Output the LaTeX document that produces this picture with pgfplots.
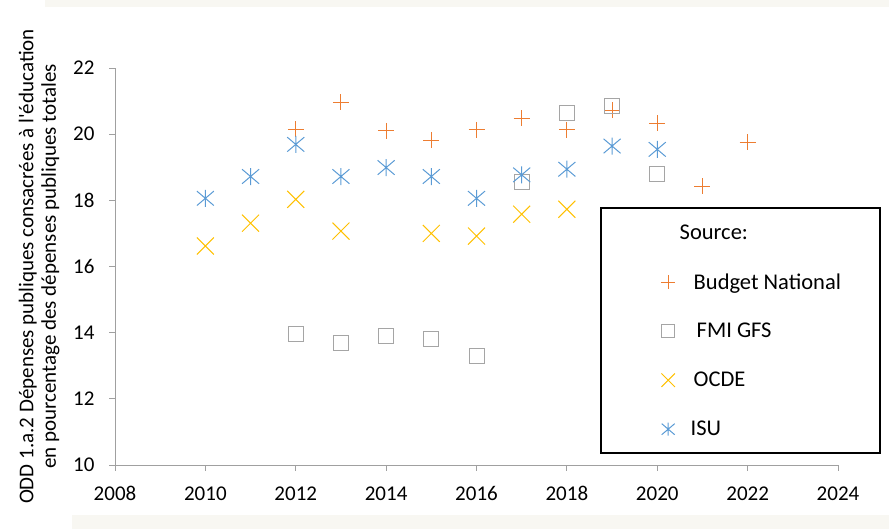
\documentclass[border=0pt]{standalone}
\usepackage{pgfplots}
\pgfplotsset{compat=1.18}
\usepackage{fontspec}
\setmainfont{Carlito}[Ligatures=TeXOff]
\definecolor{cBN}{HTML}{ED7D31}
\definecolor{cFMI}{HTML}{A5A5A5}
\definecolor{cOCDE}{HTML}{FFC000}
\definecolor{cISU}{HTML}{5B9BD5}
\definecolor{axgray}{HTML}{A0A0A0}
\definecolor{bgband}{HTML}{F8F7F2}
\pgfdeclareplotmark{xstar}{%
  \pgfpathmoveto{\pgfqpoint{0pt}{\pgfplotmarksize}}%
  \pgfpathlineto{\pgfqpoint{0pt}{-\pgfplotmarksize}}%
  \pgfpathmoveto{\pgfqpoint{-\pgfplotmarksize}{-0.85\pgfplotmarksize}}%
  \pgfpathlineto{\pgfqpoint{\pgfplotmarksize}{0.85\pgfplotmarksize}}%
  \pgfpathmoveto{\pgfqpoint{-\pgfplotmarksize}{0.85\pgfplotmarksize}}%
  \pgfpathlineto{\pgfqpoint{\pgfplotmarksize}{-0.85\pgfplotmarksize}}%
  \pgfusepathqstroke}
\begin{document}
\begin{tikzpicture}[x=1bp,y=1bp]
\useasboundingbox (0,0) rectangle (889,529);
\fill[bgband] (45,522) rectangle (889,529);
\fill[bgband] (72,0) rectangle (889,14);
\begin{axis}[
  at={(115bp,64bp)}, anchor=south west,
  scale only axis, width=723bp, height=397bp,
  xmin=2008, xmax=2024, ymin=10, ymax=22,
  xtick={2008,2010,...,2024}, ytick={10,12,...,22},
  axis lines=left, axis line style={axgray,-, line width=0.8bp},
  tick style={axgray, line width=0.8bp}, tick align=outside,
  major tick length=6bp,
  /pgf/number format/1000 sep={},
  /pgf/number format/assume math mode=true,
  x tick label style={font=\fontsize{21bp}{24bp}\selectfont, yshift=-12bp},
  y tick label style={font=\fontsize{21bp}{24bp}\selectfont, xshift=-11bp},
  ylabel={ODD 1.a.2 Dépenses publiques consacrées à l'éducation\\en pourcentage des dépenses publiques totales},
  y label style={at={(axis description cs:-0.105,0.5)}, anchor=center, rotate=0, align=center, font=\fontsize{21bp}{22.5bp}\selectfont},
  clip=false,
  legend cell align=left,
  legend style={draw=none, fill=none, inner sep=0pt,
    at={(axis description cs:0.7531,0.6461)}, anchor=north west,
    font=\fontsize{22.5bp}{26bp}\selectfont,
    nodes={minimum height=49bp}, row sep=0pt},
]
\addlegendimage{empty legend}
\addlegendentry{\hspace*{2.5bp}Source:}
\addplot[forget plot, only marks, mark=+, mark size=8bp, color=cBN, line width=1bp] coordinates {
 (2012,20.15) (2013,20.96) (2014,20.1) (2015,19.82) (2016,20.13) (2017,20.48)
 (2018,20.13) (2019,20.73) (2020,20.33) (2021,18.43) (2022,19.75)};
\addlegendimage{only marks, mark=+, mark size=7bp, color=cBN, line width=1bp}
\addlegendentry{\hspace*{16.5bp}Budget National}
\addplot[forget plot, only marks, mark=square, mark size=7.5bp, color=cFMI, line width=1bp] coordinates {
 (2012,13.95) (2013,13.70) (2014,13.90) (2015,13.80) (2016,13.30)
 (2017,18.56) (2018,20.65) (2019,20.86) (2020,18.79)};
\addlegendimage{only marks, mark=square, mark size=6.5bp, color=cFMI, line width=1bp}
\addlegendentry{\hspace*{19.5bp}FMI GFS}
\addplot[forget plot, only marks, mark=x, mark size=12bp, color=cOCDE, line width=1bp] coordinates {
 (2010,16.62) (2011,17.31) (2012,18.03) (2013,17.07) (2015,17.00)
 (2016,16.92) (2017,17.58) (2018,17.73)};
\addlegendimage{only marks, mark=x, mark size=9.5bp, color=cOCDE, line width=1bp}
\addlegendentry{\hspace*{16.5bp}OCDE}
\addplot[forget plot, only marks, mark=xstar, mark size=8.5bp, color=cISU, line width=1bp] coordinates {
 (2010,18.06) (2011,18.72) (2012,19.69) (2013,18.72) (2014,18.99) (2015,18.72)
 (2016,18.06) (2017,18.77) (2018,18.94) (2019,19.64) (2020,19.54)};
\addlegendimage{only marks, mark=xstar, mark size=6.5bp, color=cISU, line width=1bp}
\addlegendentry{\hspace*{13.5bp}ISU}
\end{axis}
\draw[line width=2bp] (601,76) rectangle (880,321);
\end{tikzpicture}
\end{document}
